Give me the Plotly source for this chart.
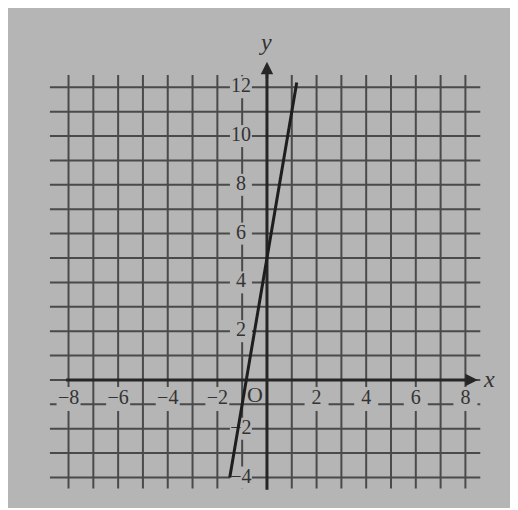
import plotly.graph_objects as go

# grid positions
grid_x = list(range(-8, 9))
grid_y = list(range(-4, 13))
x_tick_labels = [-8, -6, -4, -2, 2, 4, 6, 8]
y_tick_labels = [12, 10, 8, 6, 4, 2, -2, -4]

# the plotted line y = 6x + 5
line_x = [-1.5, 1.2]
line_y = [6 * v + 5 for v in line_x]

bg = "#b5b5b5"
grid_col = "#4a4a4a"
ink = "#262626"
serif = "Liberation Serif"


def lab(t):
    return "\u2212" + str(-t) if t < 0 else str(t)


fig = go.Figure()

# vertical grid lines
vx, vy = [], []
for g in grid_x:
    vx += [g, g, None]
    vy += [-4.45, 12.5, None]
fig.add_trace(go.Scatter(x=vx, y=vy, mode="lines",
                         line=dict(color=grid_col, width=2), hoverinfo="skip"))

# horizontal grid lines
hx, hy = [], []
for g in grid_y:
    hx += [-8.75, 8.6, None]
    hy += [g, g, None]
fig.add_trace(go.Scatter(x=hx, y=hy, mode="lines",
                         line=dict(color=grid_col, width=2), hoverinfo="skip"))

# axes
fig.add_trace(go.Scatter(x=[-8.1, 8.2], y=[0, 0], mode="lines",
                         line=dict(color=ink, width=3), hoverinfo="skip"))
fig.add_trace(go.Scatter(x=[0, 0], y=[-4.5, 12.7], mode="lines",
                         line=dict(color=ink, width=3), hoverinfo="skip"))

# tick labels, on paper-coloured boxes that break the grid lines
fig.add_trace(go.Scatter(
    x=x_tick_labels, y=[-0.78] * len(x_tick_labels),
    mode="markers+text", text=[lab(t) for t in x_tick_labels],
    textposition="middle center",
    marker=dict(symbol="square", size=24, color=bg),
    textfont=dict(family=serif, size=20, color="#333"), hoverinfo="skip"))
fig.add_trace(go.Scatter(
    x=[-1.05] * len(y_tick_labels), y=y_tick_labels,
    mode="markers+text", text=[lab(t) for t in y_tick_labels],
    textposition="middle center",
    marker=dict(symbol="square", size=22, color=bg),
    textfont=dict(family=serif, size=20, color="#333"), hoverinfo="skip"))

# the line
fig.add_trace(go.Scatter(x=line_x, y=line_y, mode="lines",
                         line=dict(color="#1e1e1e", width=3), hoverinfo="skip"))

fig.add_annotation(x=8.5, y=0, ax=7.9, ay=0, xref="x", yref="y", axref="x", ayref="y",
                   showarrow=True, arrowhead=2, arrowsize=1, arrowwidth=2.5,
                   arrowcolor=ink, text="")
fig.add_annotation(x=0, y=13.05, ax=0, ay=12.3, xref="x", yref="y", axref="x", ayref="y",
                   showarrow=True, arrowhead=2, arrowsize=1, arrowwidth=2.5,
                   arrowcolor=ink, text="")

fig.add_annotation(x=8.95, y=0.05, text="<i>x</i>", showarrow=False,
                   font=dict(family=serif, size=24, color="#333"))
fig.add_annotation(x=-0.05, y=13.85, text="<i>y</i>", showarrow=False,
                   font=dict(family=serif, size=24, color="#333"))
fig.add_annotation(x=-0.5, y=-0.6, text="O", showarrow=False,
                   font=dict(family=serif, size=22, color="#333"))

fig.update_layout(
    width=510, height=500,
    margin=dict(l=0, r=0, t=0, b=0),
    paper_bgcolor="white",
    plot_bgcolor=bg,
    showlegend=False,
    xaxis=dict(range=[-10.44, 10.12], visible=False, fixedrange=True),
    yaxis=dict(range=[-5.25, 15.25], visible=False, fixedrange=True),
)

fig.write_html("out.html")
